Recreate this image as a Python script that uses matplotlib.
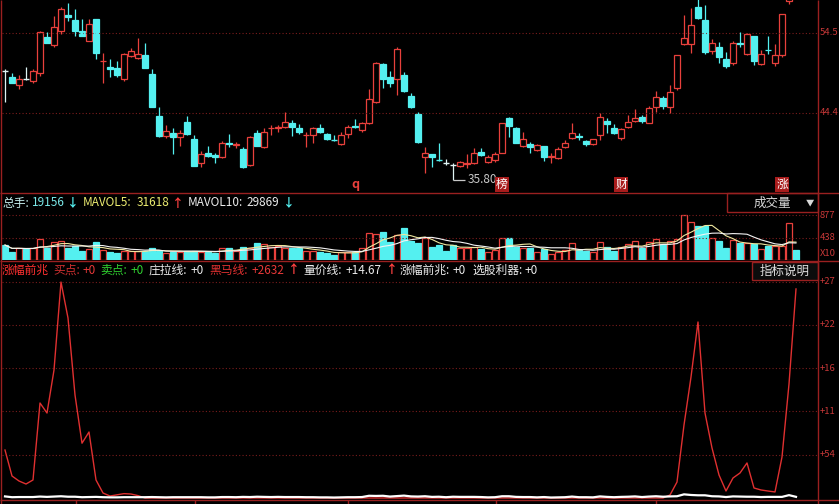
import matplotlib
matplotlib.use('Agg')
import matplotlib.pyplot as plt
from matplotlib.patches import Rectangle
import numpy as np
import pandas as pd

plt.rcParams['font.family'] = ['Noto Sans CJK SC', 'DejaVu Sans']

# 日K线数据 (开, 高, 低, 收)
opens = [
    49.71, 48.91, 47.89, 48.65, 48.40, 49.42, 54.02, 53.03, 54.86, 56.86,
    56.23, 54.82, 53.58, 56.32, 50.95, 50.26, 50.06, 48.69, 51.67, 51.34,
    51.76, 49.33, 43.97, 41.41, 41.83, 41.32, 43.24, 40.99, 37.93, 39.28,
    38.99, 38.77, 40.56, 40.26, 39.71, 37.71, 41.83, 39.97, 42.40, 42.43,
    42.60, 43.11, 42.47, 41.50, 41.54, 42.40, 41.63, 40.94, 40.35, 41.67,
    42.69, 42.18, 43.03, 45.72, 50.61, 48.99, 48.65, 49.20, 46.52, 44.22,
    38.69, 39.08, 38.39, 38.00, 37.69, 37.62, 37.88, 37.93, 39.41, 38.13,
    38.35, 39.28, 43.67, 42.40, 40.14, 40.39, 39.63, 40.14, 38.73, 38.57,
    39.97, 41.12, 41.41, 40.81, 40.35, 41.54, 43.37, 42.40, 41.12, 42.52,
    43.37, 43.88, 43.11, 45.15, 46.30, 45.15, 47.50, 53.16, 53.16, 57.92,
    56.23, 52.31, 52.74, 51.21, 50.77, 53.29, 51.88, 54.18, 50.61, 52.43,
    50.70, 51.76, 58.65, 63.00]
highs = [
    49.97, 49.50, 49.20, 50.19, 49.97, 54.82, 54.73, 56.74, 57.85, 58.36,
    57.59, 56.32, 56.32, 56.32, 52.05, 51.21, 51.03, 52.05, 52.69, 53.89,
    53.33, 49.97, 45.08, 42.82, 42.40, 42.18, 43.97, 41.54, 39.50, 40.14,
    39.28, 40.81, 41.63, 40.68, 40.05, 41.41, 42.18, 42.40, 42.82, 42.82,
    44.52, 43.46, 42.95, 41.96, 42.60, 42.95, 41.76, 41.54, 41.96, 42.82,
    43.58, 43.24, 47.38, 50.90, 50.70, 49.75, 52.82, 49.62, 46.94, 44.52,
    39.97, 39.11, 40.48, 38.44, 37.93, 38.26, 39.11, 39.84, 39.84, 38.99,
    39.41, 43.11, 43.80, 42.60, 41.96, 40.68, 40.39, 40.17, 39.20, 40.05,
    40.90, 43.11, 41.83, 40.90, 40.99, 44.39, 43.67, 42.95, 42.40, 44.10,
    44.82, 44.10, 45.24, 47.20, 46.52, 47.93, 51.76, 56.86, 57.72, 59.04,
    58.14, 53.76, 53.45, 52.18, 53.58, 54.73, 54.60, 54.18, 52.40, 54.18,
    53.16, 57.00, 62.00, 63.50]
lows = [
    45.75, 48.14, 47.38, 48.56, 48.14, 49.07, 53.25, 52.74, 54.40, 56.14,
    54.22, 54.18, 53.51, 51.21, 48.14, 48.91, 48.91, 48.44, 51.46, 51.25,
    50.06, 45.08, 41.32, 41.20, 39.11, 40.17, 41.54, 37.58, 37.42, 38.77,
    38.00, 38.57, 40.05, 39.84, 37.29, 37.62, 40.14, 39.84, 41.54, 41.92,
    42.40, 41.41, 41.67, 40.05, 40.56, 41.76, 40.90, 40.81, 40.26, 41.12,
    42.40, 41.96, 42.95, 45.59, 47.50, 47.63, 46.65, 47.07, 44.95, 40.56,
    36.65, 37.49, 38.26, 37.71, 35.80, 37.49, 37.29, 37.84, 38.86, 37.93,
    38.13, 39.20, 41.25, 40.48, 40.05, 39.20, 39.54, 38.26, 38.00, 38.44,
    39.84, 40.99, 40.90, 40.17, 40.26, 40.90, 41.83, 41.67, 40.90, 42.40,
    43.24, 43.11, 43.03, 44.52, 44.82, 44.39, 47.29, 53.03, 51.97, 56.32,
    51.85, 51.88, 50.70, 50.06, 50.48, 52.82, 51.76, 50.48, 50.48, 51.88,
    50.39, 51.54, 58.30, 61.20]
closes = [
    49.71, 48.22, 48.69, 48.65, 49.75, 54.73, 53.33, 55.29, 57.63, 56.57,
    54.86, 54.22, 55.72, 52.05, 50.99, 49.97, 49.16, 51.88, 52.27, 51.88,
    50.13, 45.15, 41.45, 42.05, 41.32, 41.83, 41.67, 37.62, 39.11, 38.86,
    38.77, 40.48, 40.39, 40.39, 37.49, 41.25, 40.17, 41.96, 42.47, 42.56,
    43.16, 42.60, 41.96, 41.58, 42.40, 41.96, 41.03, 40.90, 41.54, 42.60,
    42.56, 43.11, 46.10, 50.70, 48.69, 48.14, 52.48, 47.20, 45.15, 40.69,
    39.20, 38.69, 38.35, 38.00, 37.69, 38.05, 37.97, 39.28, 38.99, 38.69,
    39.11, 43.03, 42.69, 40.56, 40.99, 40.05, 40.26, 38.77, 38.82, 39.71,
    40.56, 41.83, 41.32, 40.35, 40.99, 43.88, 42.91, 41.76, 42.27, 43.24,
    43.67, 43.37, 44.95, 46.43, 45.24, 46.99, 51.76, 53.89, 55.59, 56.44,
    52.18, 53.33, 51.46, 50.35, 53.25, 53.20, 54.40, 51.03, 51.88, 52.36,
    51.76, 57.00, 61.50, 61.80]

# 成交量(手)
vols = [
    29200, 16200, 22800, 21400, 22800, 40300, 24000, 34500, 37600, 24000,
    27900, 17500, 21400, 34500, 19500, 15000, 14200, 17500, 17500, 17500,
    17500, 22800, 17500, 14200, 16200, 16200, 17500, 17500, 16200, 15000,
    14200, 24000, 24000, 18100, 25900, 24000, 32500, 31200, 25900, 27900,
    22800, 22800, 22800, 18100, 18100, 15000, 13100, 9700, 15000, 16200,
    16200, 22800, 53200, 50100, 54000, 34500, 48700, 61800, 37600, 33700,
    42300, 24800, 29200, 18100, 29200, 24000, 24000, 25900, 21400, 15000,
    19500, 42300, 42300, 25900, 22800, 22800, 15000, 21400, 11100, 15000,
    19500, 32500, 19500, 18100, 15000, 35700, 25900, 17500, 25900, 31200,
    37600, 22800, 34500, 40900, 31200, 37600, 40900, 87700, 73500, 66900,
    66900, 42300, 37000, 22800, 39000, 33700, 32500, 30600, 21400, 27900,
    27900, 27900, 71500, 19156]

# 指标: 黑马线 / 量价线
heima = [
    604, 277, 214, 176, 227, 1196, 1070, 1611, 2719, 2266,
    1297, 690, 831, 227, 63, 25, 40, 55, 50, 30,
    0, 0, 0, 0, 0, 0, 0, 0, 0, 0,
    0, 0, 0, 0, 0, 0, 0, 0, 0, 0,
    0, 0, 0, 0, 0, 0, 0, 0, 0, 0,
    0, 0, 0, 0, 0, 0, 0, 0, 0, 0,
    0, 0, 0, 0, 0, 0, 0, 0, 0, 0,
    0, 0, 0, 0, 0, 0, 0, 0, 0, 0,
    0, 0, 0, 0, 0, 0, 0, 0, 0, 0,
    0, 0, 0, 0, 0, 38, 201, 919, 1523, 2216,
    1070, 630, 290, 88, 252, 315, 441, 126, 101, 88,
    76, 516, 1435, 2632]
liangjia = [
    20, 10, 12, 12, 12, 18, 14, 18, 22, 16,
    16, 10, 12, 14, 10, 8, 8, 10, 10, 10,
    10, 12, 10, 8, 10, 10, 10, 10, 10, 8,
    8, 12, 12, 10, 14, 12, 16, 14, 12, 14,
    12, 12, 12, 10, 10, 8, 8, 6, 8, 10,
    10, 12, 28, 26, 28, 18, 24, 30, 20, 18,
    22, 14, 16, 10, 16, 14, 14, 14, 12, 8,
    10, 22, 22, 14, 12, 12, 8, 12, 6, 8,
    10, 18, 10, 10, 8, 20, 14, 10, 14, 16,
    20, 12, 18, 22, 16, 20, 22, 46, 38, 34,
    34, 22, 20, 12, 20, 18, 16, 16, 12, 14,
    14, 14, 36, 14.67]

# 标记
mark_idx = [50, 71, 88, 111]
mark_txt = ['q', '榜', '财', '涨']

price_grid = [54.57, 44.35]
price_lbl = ['54.5', '44.4']
vol_grid = [87700, 43850]
vol_lbl = ['877', '438']
ind_grid = [2725, 2180, 1635, 1090, 545]
ind_lbl = ['+27', '+22', '+16', '+11', '+54']

W, H = 839, 504
BG = 'black'
RED = '#e8403c'
CYAN = '#54f0f0'
DOJI = '#dff4f4'
FRAME = '#9a2020'
GRID = '#7a1c1c'
AXTXT = '#c83838'

n = len(closes)
idx = np.arange(n)

fig = plt.figure(figsize=(W / 100, H / 100), dpi=100, facecolor=BG)


def px_axes(x0, y0, x1, y1, zorder=1):
    ax = fig.add_axes([x0 / W, 1 - y1 / H, (x1 - x0) / W, (y1 - y0) / H], zorder=zorder)
    ax.set_axis_off()
    # 第i根K线中心在像素 5+7i
    ax.set_xlim((x0 - 5) / 7, (x1 - 5) / 7)
    return ax


# 主图
ax_p = px_axes(2, 0, 818, 193)
ax_p.set_ylim(58.78 - 0.1277 * 193, 58.78)
for v in price_grid:
    ax_p.axhline(v, color=GRID, lw=0.8, ls=(0, (1, 2)))

for i in range(n):
    o, h, l, c = opens[i], highs[i], lows[i], closes[i]
    top, bot = max(o, c), min(o, c)
    if c > o:
        col = RED
        ax_p.vlines(i, top, h, color=col, lw=0.9)
        ax_p.vlines(i, l, bot, color=col, lw=0.9)
        ax_p.add_patch(Rectangle((i - 0.36, bot), 0.72, top - bot, fc=BG, ec=col, lw=0.9))
    else:
        col = CYAN if c < o else DOJI
        ax_p.vlines(i, l, h, color=col, lw=0.9)
        if top - bot < 0.05:
            ax_p.hlines(c, i - 0.36, i + 0.36, color=col, lw=1.0)
        else:
            ax_p.add_patch(Rectangle((i - 0.36, bot), 0.72, top - bot, fc=col, ec=col, lw=0.9))

# 最低价标注
lo_i = int(np.argmin(lows))
ax_p.hlines(lows[lo_i], lo_i, lo_i + 1.7, color='#c8c8c8', lw=0.9)
ax_p.text(lo_i + 2.1, lows[lo_i], f'{lows[lo_i]:.2f}', color='#c8c8c8', fontsize=8.5,
          ha='left', va='center')

xt = ax_p.get_xaxis_transform()
for i, t in zip(mark_idx, mark_txt):
    if t == 'q':
        ax_p.text(i, 0.045, t, transform=xt, color=RED, fontsize=9, fontweight='bold',
                  ha='center', va='center')
    else:
        ax_p.text(i, 0.045, t, transform=xt, color='white', fontsize=8.5, ha='center', va='center',
                  bbox=dict(boxstyle='square,pad=0.1', fc='#a81c1c', ec='none'))

# 成交量
ax_v = px_axes(2, 212, 818, 260)
ax_v.set_ylim(0, 87700 * 48 / 45)
for v in vol_grid:
    ax_v.axhline(v, color=GRID, lw=0.8, ls=(0, (1, 2)))
up = np.array(closes) > np.array(opens)
fcs = [BG if u else CYAN for u in up]
ecs = [RED if u else CYAN for u in up]
ax_v.bar(idx, vols, width=0.72, color=fcs, edgecolor=ecs, linewidth=0.9)
vs = pd.Series(vols, dtype=float)
ax_v.plot(idx, vs.rolling(5, min_periods=1).mean(), color='#f0e8a0', lw=0.8)
ax_v.plot(idx, vs.rolling(10, min_periods=1).mean(), color='#f4f4f4', lw=0.8)

# 指标
ax_i = px_axes(2, 280, 818, 500)
ax_i.set_ylim(-2 * 12.59, 218 * 12.59)
for v in ind_grid:
    ax_i.axhline(v, color=GRID, lw=0.8, ls=(0, (1, 2)))
ax_i.plot(idx, heima, color='#e03030', lw=1.0)
ax_i.plot(idx, liangjia, color='white', lw=1.6)

# 右侧刻度 (窄栏, 字号缩小以放下)
for ax, vals, lbls in ((ax_p, price_grid, price_lbl), (ax_v, vol_grid, vol_lbl),
                       (ax_i, ind_grid, ind_lbl)):
    yt = ax.get_yaxis_transform()
    for v, s in zip(vals, lbls):
        ax.text(1.0025, v, s, transform=yt, color=AXTXT, fontsize=6.8, ha='left', va='center',
                clip_on=False)

# 框线与文字
ax_bg = fig.add_axes([0, 0, 1, 1], zorder=5)
ax_bg.set_axis_off()
ax_bg.set_xlim(0, W)
ax_bg.set_ylim(H, 0)
ax_bg.vlines([1, 818], 0, H, color=FRAME, lw=1.0)
ax_bg.hlines([193, 261, 500], 0, W, color=FRAME, lw=1.0)
ax_bg.vlines([76, 195, 348, 496, 656], 500, H, color=FRAME, lw=1.0)
ax_bg.text(820, 253, 'X10', color=AXTXT, fontsize=6.8, ha='left', va='center')

ax_bg.add_patch(Rectangle((727, 193), 91, 19, fc=BG, ec=FRAME, lw=1.0))
ax_bg.text(754, 203, '成交量', color='#d8d8d8', fontsize=9, ha='left', va='center')
ax_bg.text(810, 203, '▼', color='#d8d8d8', fontsize=6, ha='center', va='center')
ax_bg.add_patch(Rectangle((752, 262), 66, 18, fc='#0c0c0c', ec=FRAME, lw=1.0))
ax_bg.text(760, 271, '指标说明', color='#e0e0e0', fontsize=9, ha='left', va='center')

vol_head = [
    (2, '总手:', '#c8f0f0'), (32, '19156', '#7ae8e8'), (67, '↓', CYAN),
    (83, 'MAVOL5:', '#ecec70'), (137, '31618', '#ecec70'), (172, '↑', '#ff4040'),
    (188, 'MAVOL10:', '#ececec'), (246, '29869', '#ececec'), (283, '↓', CYAN),
]
for x, s, c in vol_head:
    fw = 'bold' if s in ('↑', '↓') else 'normal'
    ax_bg.text(x, 203, s, color=c, fontsize=8.5, ha='left', va='center', fontweight=fw)

ind_head = [
    (2, '涨幅前兆', '#ff3030'), (53, '买点:', '#d03030'), (83, '+0', '#e83838'),
    (100, '卖点:', '#30d030'), (131, '+0', '#30d030'),
    (149, '庄拉线:', '#ececec'), (191, '+0', '#ececec'),
    (209, '黑马线:', '#e03030'), (252, '+2632', '#e83838'), (288, '↑', '#ff4040'),
    (303, '量价线:', '#ececec'), (346, '+14.67', '#ececec'), (386, '↑', '#ff4040'),
    (400, '涨幅前兆:', '#ececec'), (453, '+0', '#ececec'),
    (472, '选股利器:', '#ececec'), (525, '+0', '#ececec'),
]
for x, s, c in ind_head:
    fw = 'bold' if s == '↑' else 'normal'
    ax_bg.text(x, 270, s, color=c, fontsize=8.5, ha='left', va='center', fontweight=fw)

fig.savefig('out.png', dpi=100, facecolor=BG)
